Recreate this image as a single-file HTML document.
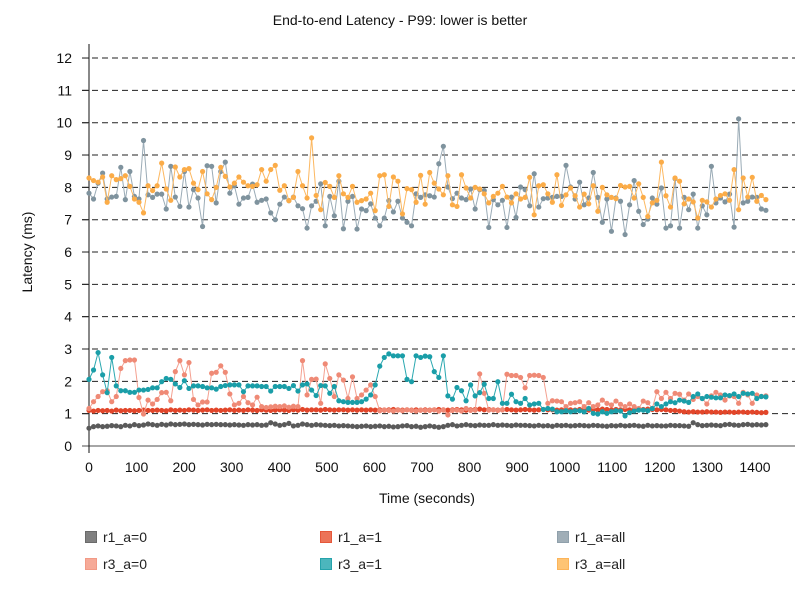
<!DOCTYPE html>
<html><head><meta charset="utf-8"><style>
body{margin:0;background:#fff;font-family:"Liberation Sans",sans-serif;}
#wrap{position:relative;width:800px;height:600px;}
.leg{position:absolute;font-size:14px;color:#222;display:flex;align-items:center;}
.sw{width:12px;height:12px;margin-right:6px;box-sizing:border-box;border:1px solid;}
</style></head><body>
<div id="wrap">
<svg id="svg" width="800" height="600" style="position:absolute;left:0;top:0">
<text x="400" y="25" text-anchor="middle" font-size="14" fill="#111">End-to-end Latency - P99: lower is better</text>
<text transform="translate(32,252) rotate(-90)" text-anchor="middle" font-size="14" fill="#111">Latency (ms)</text>
<text x="427" y="503" text-anchor="middle" font-size="14" fill="#111">Time (seconds)</text>
<g id="grid"></g><g id="axes"></g><g id="series"></g>
</svg>
<div class="leg" style="left:85px;top:529px"><span class="sw" style="background:#808080;border-color:#6a6a6a"></span>r1_a=0</div>
<div class="leg" style="left:320px;top:529px"><span class="sw" style="background:#ec7358;border-color:#e5573a"></span>r1_a=1</div>
<div class="leg" style="left:557px;top:529px"><span class="sw" style="background:#a0aeb7;border-color:#8fa0ab"></span>r1_a=all</div>
<div class="leg" style="left:85px;top:556px"><span class="sw" style="background:#f6aa98;border-color:#f29a86"></span>r3_a=0</div>
<div class="leg" style="left:320px;top:556px"><span class="sw" style="background:#4cb6bd;border-color:#25a3ab"></span>r3_a=1</div>
<div class="leg" style="left:557px;top:556px"><span class="sw" style="background:#fec474;border-color:#fcb45a"></span>r3_a=all</div>
</div>
<script>
const xTicks=[0,100,200,300,400,500,600,700,800,900,1000,1100,1200,1300,1400];
const yTicks=[0,1,2,3,4,5,6,7,8,9,10,11,12];
const tStep=9.55;
const r1a0=[0.55,0.6,0.62,0.6,0.61,0.63,0.62,0.6,0.64,0.62,0.66,0.63,0.65,0.68,0.66,0.64,0.67,0.65,0.68,0.66,0.67,0.68,0.66,0.67,0.66,0.65,0.67,0.66,0.67,0.66,0.66,0.65,0.66,0.65,0.64,0.66,0.65,0.66,0.64,0.65,
0.72,0.68,0.64,0.66,0.7,0.62,0.64,0.68,0.66,0.64,0.66,0.65,0.64,0.63,0.64,0.62,0.63,0.62,0.61,0.6,0.61,0.62,0.6,0.61,0.62,0.6,0.61,0.59,0.6,0.62,
0.63,0.6,0.61,0.58,0.6,0.62,0.6,0.58,0.6,0.64,0.66,0.62,0.64,0.66,0.64,0.63,0.65,0.64,0.64,0.66,0.64,0.65,0.64,0.63,0.65,0.64,0.64,0.63,0.62,0.64,
0.62,0.63,0.61,0.64,0.63,0.64,0.62,0.63,0.64,0.63,0.62,0.64,0.63,0.62,0.61,0.63,0.62,0.64,0.62,0.63,0.64,0.62,0.61,0.64,0.62,0.63,0.62,0.62,0.64,0.63,
0.63,0.62,0.61,0.72,0.66,0.63,0.64,0.65,0.64,0.63,0.66,0.67,0.65,0.64,0.66,0.67,0.65,0.66,0.65,0.66];
const r1a1=[1.1,1.08,1.1,1.09,1.1,1.08,1.11,1.09,1.1,1.1,1.09,1.1,1.11,1.1,1.1,1.11,1.1,1.09,1.12,1.1,1.11,1.1,1.12,1.11,1.1,1.11,1.12,1.1,1.11,1.1,
1.11,1.12,1.1,1.11,1.1,1.12,1.11,1.1,1.12,1.11,1.1,1.11,1.12,1.11,1.1,1.12,1.11,1.13,1.11,1.12,1.12,1.11,1.13,1.12,1.11,1.12,1.12,1.11,1.12,1.11,
1.12,1.11,1.12,1.11,1.12,1.11,1.12,1.13,1.12,1.11,1.12,1.11,1.12,1.11,1.12,1.11,1.12,1.13,1.12,1.11,1.12,1.13,1.12,1.11,1.12,1.13,1.14,1.12,1.13,1.12,
1.11,1.12,1.13,1.12,1.11,1.12,1.13,1.12,1.11,1.12,1.13,1.12,1.12,1.11,1.12,1.13,1.12,1.11,1.13,1.12,1.11,1.13,1.12,1.14,1.13,1.12,1.13,1.12,1.13,1.12,
1.13,1.12,1.13,1.14,1.13,1.12,1.13,1.12,1.1,1.1,1.08,1.06,1.05,1.06,1.05,1.05,1.06,1.05,1.05,1.04,1.05,1.05,1.04,1.05,1.05,1.04,1.05,1.04,1.03,1.04];
const r3a0=[1.16,1.37,1.53,1.68,1.71,1.37,1.53,2.4,2.64,2.66,2.66,1.5,0.99,1.42,1.3,1.44,1.65,1.66,1.4,2.3,2.64,2.2,2.58,1.44,1.27,1.36,1.36,2.25,2.28,2.48,
2.28,1.61,1.27,1.32,1.53,1.34,1.27,1.51,1.22,1.19,1.21,1.23,1.22,1.24,1.2,1.23,1.22,2.64,1.58,2.06,2.07,1.32,2.54,2.09,1.53,2.2,2.04,1.47,2.14,1.47,
1.58,1.73,1.89,1.53,1.09,1.12,1.1,1.08,1.11,1.09,1.12,1.1,1.08,1.11,1.1,
1.1,1.12,1.08,1.11,0.96,1.1,1.11,1.08,1.16,1.1,1.11,2.23,1.63,1.11,1.12,1.1,1.12,2.22,2.18,2.18,2.12,1.8,2.18,2.19,2.18,2.12,1.32,1.4,1.39,1.37,
1.22,1.32,1.34,1.37,1.22,1.34,1.22,1.27,1.42,1.32,1.27,1.39,
1.29,1.22,1.3,1.22,1.16,1.39,1.34,1.16,1.68,1.47,1.66,1.47,1.63,1.6,1.42,1.61,1.44,1.53,1.47,1.3,1.55,1.66,1.58,1.42,1.55,1.53,1.32,1.66,1.58,1.32,1.58,1.53,1.55];
const r3a1=[2.06,2.35,2.89,2.2,1.65,2.74,1.86,1.71,1.71,1.66,1.66,1.73,1.73,1.75,1.8,1.8,1.99,2.09,2.06,1.92,1.81,2.02,1.78,1.86,1.86,1.84,1.8,1.8,1.76,1.84,
1.87,1.89,1.89,1.89,1.68,1.86,1.86,1.86,1.84,1.84,1.7,1.84,1.84,1.84,1.78,1.87,1.7,1.89,1.92,1.73,1.56,1.87,1.86,1.63,1.84,1.4,1.37,1.35,1.35,1.35,
1.37,1.45,1.58,1.89,2.47,2.74,2.85,2.79,2.79,2.79,2.06,1.99,2.79,2.74,2.78,
2.76,2.3,2.12,2.79,1.55,1.45,1.81,1.71,1.4,1.89,1.55,1.65,1.91,1.47,1.47,1.99,1.32,1.32,1.6,1.37,1.32,1.47,1.27,1.3,1.32,1.13,1.16,1.14,1.06,1.06,
1.09,1.06,1.09,1.09,1.06,1.16,1.01,0.99,1.06,1.01,1.06,1.09,
1.08,0.93,1.03,1.08,1.11,1.11,1.09,1.16,1.3,1.22,1.3,1.37,1.34,1.42,1.39,1.35,1.53,1.61,1.47,1.53,1.51,1.49,1.49,1.58,1.56,1.61,1.53,1.63,1.61,1.63,1.47,1.53,1.52];
const r1all=[7.82,7.64,8.13,8.44,7.64,7.7,7.72,8.62,7.62,8.49,7.72,7.64,9.45,7.77,7.69,7.79,7.79,7.33,8.65,7.7,7.41,8.49,7.39,7.93,7.67,6.79,8.67,8.65,7.52,8.49,
8.78,7.82,8.05,7.48,7.67,7.69,8.1,7.54,7.6,7.64,7.21,7.0,7.48,7.7,7.59,7.7,7.43,7.34,6.74,7.43,7.57,8.11,6.81,7.72,7.12,8.19,6.72,7.57,7.72,6.71,
7.33,7.28,7.49,7.05,6.81,7.05,7.59,7.24,7.57,7.05,6.92,6.81,7.8,7.69,7.77,
7.74,7.7,8.73,9.27,8.01,7.65,7.82,7.67,7.62,7.95,7.33,7.93,7.9,6.76,7.62,7.46,7.6,6.76,7.7,7.07,8.01,7.93,7.43,8.42,7.39,7.65,7.67,7.69,7.72,7.72,
8.68,8.01,7.64,8.16,7.46,7.67,8.46,7.69,6.92,7.64,6.64,7.67,7.57,6.54,7.46,8.21,7.26,6.85,7.02,7.67,7.48,7.98,6.74,6.81,8.27,6.74,7.69,7.31,7.79,6.74,
7.43,7.15,8.65,7.52,7.67,7.55,7.79,6.77,10.12,7.52,7.57,7.7,7.69,7.33,7.29];
const r3all=[8.29,8.21,8.16,8.32,7.54,8.36,8.24,8.27,8.36,8.03,7.64,7.54,7.21,8.05,7.9,8.05,8.75,7.95,7.6,8.63,8.32,8.55,8.58,8.13,7.93,8.49,7.8,7.62,8.0,8.62,
8.34,8.01,8.13,8.32,8.16,8.05,8.03,8.08,8.55,8.19,8.55,8.68,7.91,8.05,7.59,7.69,8.49,8.05,7.67,9.53,7.75,7.31,8.15,8.03,7.69,8.36,7.8,7.69,8.03,7.54,
7.59,7.64,7.82,7.28,8.36,8.39,7.41,8.32,8.19,7.18,7.96,7.93,7.54,8.37,7.48,
8.46,8.13,7.95,7.77,8.36,7.46,7.41,8.39,7.98,7.67,8.0,7.95,7.8,7.52,7.72,7.82,8.03,7.7,7.52,7.8,7.64,7.69,8.31,7.15,8.05,8.08,7.8,7.54,8.39,7.44,
7.77,7.98,7.74,7.39,7.79,7.49,8.05,7.26,8.0,7.77,7.69,7.65,8.06,8.01,8.03,7.67,8.11,7.69,7.1,7.52,7.6,8.78,7.74,7.39,8.29,8.19,7.49,7.64,7.55,7.05,
7.6,7.55,7.39,7.64,7.75,7.8,7.6,8.55,7.31,8.29,7.7,8.31,7.57,7.75,7.62];

const NS='http://www.w3.org/2000/svg';
const X0=89,XS=0.4757,Y0=446,YS=32.33;
function xS(t){return X0+t*XS;}
function yS(v){return Y0-v*YS;}
function mk(tag,attrs,parent){const e=document.createElementNS(NS,tag);for(const k in attrs)e.setAttribute(k,attrs[k]);parent.appendChild(e);return e;}
const grid=document.getElementById('grid'),axes=document.getElementById('axes'),ser=document.getElementById('series');
yTicks.forEach(v=>{
  if(v>0){const l=mk('line',{x1:82,x2:795,y1:yS(v),y2:yS(v),stroke:'#222','stroke-dasharray':'6,4','stroke-width':1},grid);
  
  }
  const tk=mk('line',{x1:82,x2:89,y1:yS(v),y2:yS(v),stroke:'#222'},axes);
  
  
  const t=mk('text',{x:72,y:yS(v)+5,'text-anchor':'end','font-size':14,fill:'#111'},axes);t.textContent=v;
  
  
});
xTicks.forEach(v=>{
  const t=mk('text',{x:xS(v),y:472,'text-anchor':'middle','font-size':14,fill:'#111'},axes);t.textContent=v;
  
  
});
const xa=mk('line',{x1:82,x2:795,y1:446,y2:446,stroke:'#888','stroke-width':1.5},axes);


const ya=mk('line',{x1:89,x2:89,y1:44,y2:453,stroke:'#111','stroke-width':1},axes);


const seriesList=[
 {name:'r1-a0',vals:r1a0,line:'#707070',pt:'#5a5a5a'},
 {name:'r1-a1',vals:r1a1,line:'#e8543a',pt:'#e2462a'},
 {name:'r3-a0',vals:r3a0,line:'#f4a090',pt:'#ef8a76'},
 {name:'r3-a1',vals:r3a1,line:'#2aa8b0',pt:'#1a9ea8'},
 {name:'r1-all',vals:r1all,line:'#9aabb6',pt:'#7f939e'},
 {name:'r3-all',vals:r3all,line:'#fcb861',pt:'#fbac48'}
];
seriesList.forEach(s=>{
  const g=mk('g',{},ser);
  
  
  const pts=s.vals.map((v,i)=>xS(i*tStep).toFixed(2)+','+yS(v).toFixed(2)).join(' ');
  const pl=mk('polyline',{points:pts,fill:'none',stroke:s.line,'stroke-width':1},g);
  
  
  s.vals.forEach((v,i)=>{
    const c=mk('circle',{cx:xS(i*tStep),cy:yS(v),r:2.6,fill:s.pt},g);
    
    
  });
});
</script>
</body></html>
